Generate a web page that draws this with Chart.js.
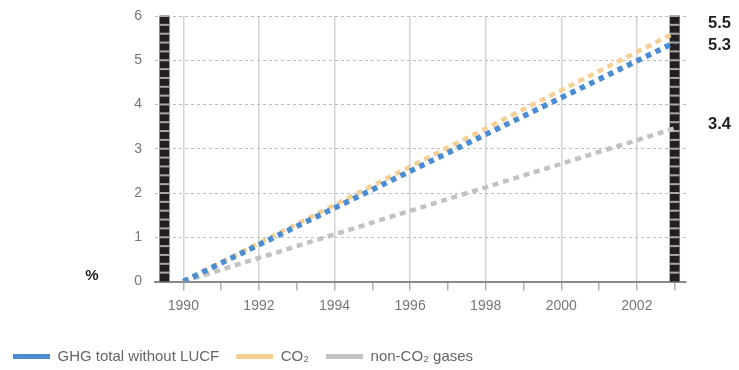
<!DOCTYPE html>
<html><head><meta charset="utf-8">
<script src="https://cdn.jsdelivr.net/npm/chart.js@4.4.0/dist/chart.umd.min.js"></script>
<style>html,body{margin:0;padding:0;background:#fff}#w{width:739px;height:370px}</style>
</head><body><div id="w"><canvas id="c"></canvas></div>
<script>
const years = [1990, 2003];
const ghgTotal = [0, 5.4];
const co2 = [0, 5.62];
const nonCo2 = [0, 3.46];
const endLabels = ['5.3', '5.5', '3.4'];
const seriesNames = ['GHG total without LUCF', 'CO\u2082', 'non-CO\u2082 gases'];
const xTickYears = [1990,1991,1992,1993,1994,1995,1996,1997,1998,1999,2000,2001,2002,2003];
const yTicks = [0,1,2,3,4,5,6];
const rulerYears = [1989.5, 2003];

const FONT = "'Liberation Sans', Arial, sans-serif";
const pts = arr => years.map((y,i)=>({x:y, y:arr[i]}));

const rulerPlugin = {
  id:'ruler',
  beforeDatasetsDraw(chart){
    const {ctx, scales:{x,y}} = chart;
    ctx.save();
    const top = y.getPixelForValue(6), bot = y.getPixelForValue(0);
    rulerYears.forEach(v=>{
      const cx = x.getPixelForValue(v);
      ctx.fillStyle = '#231f20';
      ctx.fillRect(cx-5, top, 10, bot-top);
      ctx.strokeStyle = '#a8a8a8';
      ctx.lineWidth = 2;
      for(let k=1;k<=30;k++){
        const py = y.getPixelForValue(k*0.2);
        ctx.beginPath(); ctx.moveTo(cx-5, py); ctx.lineTo(cx+5, py); ctx.stroke();
      }
    });
    ctx.restore();
  },
  afterDraw(chart){
    const {ctx, scales:{x,y}, chartArea} = chart;
    ctx.save();
    ctx.font = "bold 16.5px " + FONT;
    ctx.fillStyle = '#231f20';
    ctx.textBaseline = 'middle';
    ctx.textAlign = 'left';
    const offsets = [3, -9, -3.5];
    chart.data.datasets.forEach((ds,i)=>{
      const last = ds.data[ds.data.length-1];
      ctx.fillText(endLabels[i], chartArea.right + 22, y.getPixelForValue(last.y) + offsets[i]);
    });
    ctx.font = "bold 15px " + FONT;
    ctx.textAlign = 'center';
    ctx.fillText('%', 92, y.getPixelForValue(0) - 6);
    ctx.restore();
  }
};

new Chart(document.getElementById('c'), {
  type:'line',
  data:{ datasets:[
    {label:seriesNames[0], data:pts(ghgTotal), borderColor:'#4a8dd3', backgroundColor:'#4a8dd3', borderWidth:5.5, borderDash:[5.5,5], borderCapStyle:'butt', pointRadius:0, fill:false, order:1},
    {label:seriesNames[1], data:pts(co2), borderColor:'#f6cf94', backgroundColor:'#f6cf94', borderWidth:4.5, borderDash:[6,4.8], borderCapStyle:'butt', pointRadius:0, fill:false, order:2},
    {label:seriesNames[2], data:pts(nonCo2), borderColor:'#c2c2c2', backgroundColor:'#c2c2c2', borderWidth:4.5, borderDash:[6,4.8], borderCapStyle:'butt', pointRadius:0, fill:false, order:3}
  ]},
  options:{
    responsive:true, maintainAspectRatio:false, animation:false,
    layout:{padding:{top:16, right:53, left:-4, bottom:-4}},
    plugins:{
      tooltip:{enabled:false},
      legend:{
        position:'bottom', align:'start',
        labels:{
          boxWidth:37, boxHeight:5, padding:17, color:'#666',
          font:{family:FONT, size:15},
          generateLabels(chart){
            return chart.data.datasets.map((ds,i)=>({text:ds.label, fillStyle:ds.borderColor, strokeStyle:ds.borderColor, lineWidth:0, lineDash:[], datasetIndex:i, fontColor:'#666'}));
          }
        }
      }
    },
    scales:{
      x:{
        type:'linear', min:1989.25, max:2003.3,
        afterBuildTicks(s){ s.ticks = xTickYears.map(v=>({value:v})); },
        afterFit(s){ s.height = 50.5; s.paddingLeft = 0; s.paddingRight = 0; },
        ticks:{ color:'#777', font:{family:FONT, size:14}, padding:7, autoSkip:false, maxRotation:0,
          callback:v => (v % 2 === 0 ? String(v) : '') },
        grid:{ color: c => (c.tick && c.tick.value % 2 === 0 ? '#d4d4d4' : 'rgba(0,0,0,0)'), lineWidth:1.5, tickColor:'#b0b0b0', tickLength:9, drawTicks:true },
        border:{ display:true, color:'#8a8a8a', width:2, dash:[] }
      },
      y:{
        min:0, max:6,
        afterBuildTicks(s){ s.ticks = yTicks.map(v=>({value:v})); },
        afterFit(s){ s.width = 159; s.paddingTop = 0; s.paddingBottom = 0; },
        ticks:{ color:'#777', font:{family:FONT, size:14}, padding:13 },
        grid:{ color:'#bdbdbd', lineWidth:1, drawTicks:false },
        border:{ display:false, dash:[3,3] }
      }
    }
  },
  plugins:[rulerPlugin]
});
</script></body></html>
